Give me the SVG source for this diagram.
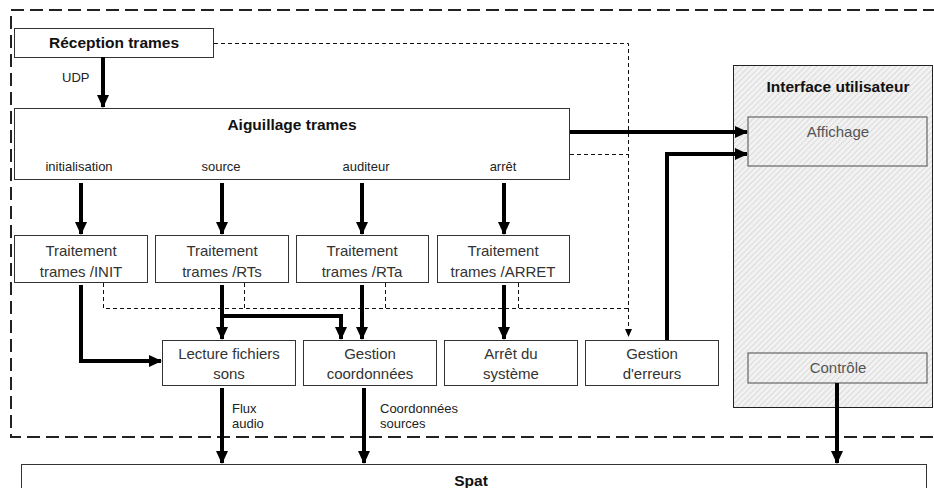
<svg xmlns="http://www.w3.org/2000/svg" width="934" height="488" viewBox="0 0 934 488">
  <style>
    .box { fill: #fff; stroke: #333; stroke-width: 1; }
    .hatch { fill: url(#hatch); stroke: #222; stroke-width: 1; }
    .hatch-in { fill: url(#hatch); stroke: #666; stroke-width: 1.2; }
    .t { font-family: "Liberation Sans", Arial, sans-serif; font-size: 15px; fill: #333; text-anchor: middle; }
    .b { font-family: "Liberation Sans", Arial, sans-serif; font-size: 15.5px; font-weight: bold; fill: #111; text-anchor: middle; }
    .s { font-family: "Liberation Sans", Arial, sans-serif; font-size: 13px; fill: #222; }
    .g { fill: #555; }
    .thick { fill: none; stroke: #000; stroke-width: 4; }
    .thin-dash { fill: none; stroke: #111; stroke-width: 1; stroke-dasharray: 4 3; }
    .frame { fill: none; stroke: #222; stroke-width: 2; stroke-dasharray: 13 6; }
  </style>
  <defs>
    <pattern id="hatch" width="4" height="4" patternUnits="userSpaceOnUse" patternTransform="rotate(45)">
      <rect width="4" height="4" fill="#f2f2f2"/>
      <line x1="0" y1="0" x2="0" y2="4" stroke="#d2d2d2" stroke-width="1.4"/>
    </pattern>
    <marker id="ah" markerUnits="userSpaceOnUse" markerWidth="14" markerHeight="14" viewBox="0 0 14 14" refX="12" refY="7" orient="auto">
      <path d="M0,1 L13,7 L0,13 z" fill="#000"/>
    </marker>
    <marker id="ahs" markerUnits="userSpaceOnUse" markerWidth="8" markerHeight="8" viewBox="0 0 8 8" refX="7" refY="4" orient="auto">
      <path d="M0,0.5 L8,4 L0,7.5 z" fill="#000"/>
    </marker>
  </defs>

  <!-- system boundary -->
  <rect class="frame" x="11" y="10" width="960" height="427"/>

  <!-- user interface panel -->
  <g id="interface">
    <rect class="hatch" x="733.5" y="65.5" width="199" height="342"/>
    <text class="b" x="838" y="92">Interface utilisateur</text>
  </g>
  <g id="affichage">
    <rect class="hatch-in" x="748" y="117" width="179" height="49"/>
    <text class="t g" x="838" y="137">Affichage</text>
  </g>
  <g id="controle">
    <rect class="hatch-in" x="748" y="353" width="179" height="30"/>
    <text class="t g" x="838" y="373">Contrôle</text>
  </g>

  <g id="reception">
    <rect class="box" x="14.5" y="28.5" width="199" height="29"/>
    <text class="b" x="114" y="48">Réception trames</text>
  </g>

  <g id="aiguillage">
    <rect class="box" x="14.5" y="108.5" width="555" height="71"/>
    <text class="b" x="292" y="130">Aiguillage trames</text>
    <text class="s" x="79" y="171" text-anchor="middle">initialisation</text>
    <text class="s" x="221" y="171" text-anchor="middle">source</text>
    <text class="s" x="366" y="171" text-anchor="middle">auditeur</text>
    <text class="s" x="503" y="171" text-anchor="middle">arrêt</text>
  </g>

  <g id="trt-init">
    <rect class="box" x="14.5" y="235.5" width="133" height="47"/>
    <text class="t" x="81" y="256">Traitement</text>
    <text class="t" x="81" y="277">trames /INIT</text>
  </g>
  <g id="trt-rts">
    <rect class="box" x="155.5" y="235.5" width="133" height="47"/>
    <text class="t" x="222" y="256">Traitement</text>
    <text class="t" x="222" y="277">trames /RTs</text>
  </g>
  <g id="trt-rta">
    <rect class="box" x="296.5" y="235.5" width="132" height="47"/>
    <text class="t" x="362" y="256">Traitement</text>
    <text class="t" x="362" y="277">trames /RTa</text>
  </g>
  <g id="trt-arret">
    <rect class="box" x="437.5" y="235.5" width="132" height="47"/>
    <text class="t" x="503" y="256">Traitement</text>
    <text class="t" x="503" y="277">trames /ARRET</text>
  </g>

  <g id="lecture">
    <rect class="box" x="162.5" y="340.5" width="133" height="45"/>
    <text class="t" x="229" y="359">Lecture fichiers</text>
    <text class="t" x="229" y="379">sons</text>
  </g>
  <g id="gestion-coord">
    <rect class="box" x="303.5" y="340.5" width="133" height="45"/>
    <text class="t" x="370" y="359">Gestion</text>
    <text class="t" x="370" y="379">coordonnées</text>
  </g>
  <g id="arret">
    <rect class="box" x="444.5" y="340.5" width="133" height="45"/>
    <text class="t" x="511" y="359">Arrêt du</text>
    <text class="t" x="511" y="379">système</text>
  </g>
  <g id="erreurs">
    <rect class="box" x="585.5" y="340.5" width="133" height="45"/>
    <text class="t" x="652" y="359">Gestion</text>
    <text class="t" x="652" y="379">d'erreurs</text>
  </g>

  <g id="spat">
    <rect class="box" x="21.5" y="464.5" width="905" height="40"/>
    <text class="b" x="471" y="486">Spat</text>
  </g>

  <g id="connectors">
    <!-- error reporting (dashed) -->
    <path class="thin-dash" d="M214,43.5 H628.5 V336" marker-end="url(#ahs)"/>
    <path class="thin-dash" d="M570,154.5 H628.5"/>
    <path class="thin-dash" d="M103.5,283 V308.5 H628.5"/>
    <path class="thin-dash" d="M244.5,283 V308.5"/>
    <path class="thin-dash" d="M385.5,283 V308.5"/>
    <path class="thin-dash" d="M518.5,283 V308.5"/>

    <!-- data flow (thick) -->
    <path class="thick" d="M103,57 V107" marker-end="url(#ah)"/>
    <text class="s" x="62" y="82">UDP</text>

    <path class="thick" d="M81,183 V234" marker-end="url(#ah)"/>
    <path class="thick" d="M222,183 V234" marker-end="url(#ah)"/>
    <path class="thick" d="M362,183 V234" marker-end="url(#ah)"/>
    <path class="thick" d="M504,183 V234" marker-end="url(#ah)"/>

    <path class="thick" d="M570,132 H747" marker-end="url(#ah)"/>
    <path class="thick" d="M667,340 V154 H747" marker-end="url(#ah)"/>

    <path class="thick" d="M81,285 V361 H161" marker-end="url(#ah)"/>
    <path class="thick" d="M222,285 V339" marker-end="url(#ah)"/>
    <path class="thick" d="M222,316 H341 V339" marker-end="url(#ah)"/>
    <path class="thick" d="M362,285 V339" marker-end="url(#ah)"/>
    <path class="thick" d="M504,285 V339" marker-end="url(#ah)"/>

    <path class="thick" d="M222,388 V463" marker-end="url(#ah)"/>
    <text class="s" x="232" y="413">Flux</text>
    <text class="s" x="232" y="428">audio</text>
    <path class="thick" d="M364,388 V463" marker-end="url(#ah)"/>
    <text class="s" x="380" y="413">Coordonnées</text>
    <text class="s" x="380" y="428">sources</text>

    <path class="thick" d="M837,383 V463" marker-end="url(#ah)"/>
  </g>
</svg>
